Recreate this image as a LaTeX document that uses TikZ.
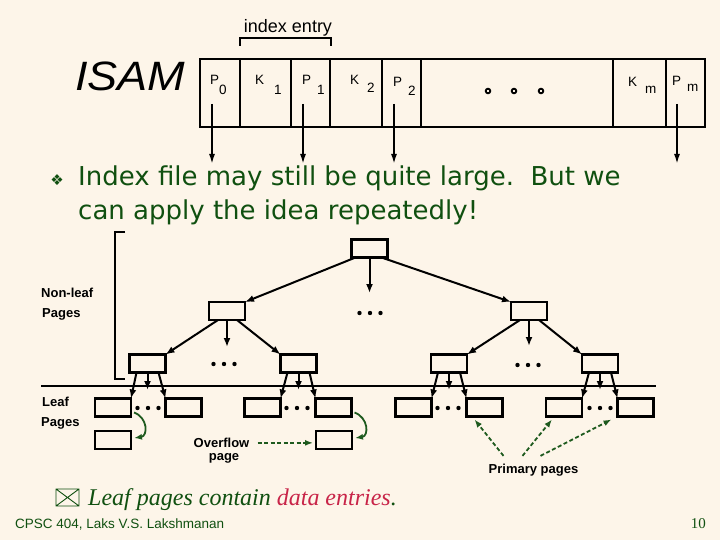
\documentclass[tikz,border=0pt]{standalone}
\usepackage{fontspec}
\setmainfont{Liberation Sans}
\newfontfamily\comicf{DejaVu Sans}
\newfontfamily\isamf[FakeStretch=1.1]{Liberation Sans}
\newfontfamily\dejavu{DejaVu Sans}
\newfontfamily\serifit{Liberation Serif}
\usetikzlibrary{arrows.meta}
\definecolor{bg}{RGB}{253,245,233}
\definecolor{tgreen}{RGB}{16,80,16}
\definecolor{agreen}{RGB}{30,90,30}
\definecolor{tred}{RGB}{200,36,72}
\newcommand\tdots[2]{\foreach \dx in {-10.5,0,10.5}{\fill ({#1+\dx},#2) circle[radius=2.2pt];}}
\begin{document}
\begin{tikzpicture}[x=1pt,y=-1pt,
  page/.style={draw, line width=2.2pt, minimum width=36pt, minimum height=18pt, inner sep=0pt, outer sep=0pt},
  cell/.style={draw, line width=2.2pt, minimum height=68pt, inner sep=0pt, outer sep=0pt, anchor=north west},
  tarrow/.style={line width=2pt, -{Latex[length=9pt,width=7pt]}},
  iarrow/.style={line width=1.8pt, -{Latex[length=10pt,width=6pt]}},
  lbl/.style={font=\fontsize{13}{15}\selectfont\bfseries, inner sep=0pt, anchor=base west},
  clbl/.style={font=\fontsize{13.5}{15}\selectfont, inner sep=0pt, anchor=base west},
  garrow/.style={agreen, line width=1.8pt, dash pattern=on 4pt off 2.5pt, -{Latex[length=8pt,width=6pt]}},
  gcurve/.style={agreen, line width=1.8pt, -{Latex[length=8pt,width=6pt]}},
]
\fill[bg] (0,0) rectangle (720,540);
\useasboundingbox (0,0) rectangle (720,540);

% title
\node[inner sep=0pt, anchor=base west, font=\isamf\fontsize{41}{45}\selectfont\itshape] (isam) at (75,91) {ISAM};
\node[inner sep=0pt, anchor=base, font=\fontsize{18}{20}\selectfont] (ie) at (288,33) {index entry};
\draw[line width=1.8pt] (240,46) -- (240,38) -- (331,38) -- (331,46);

% index page cells
\node[cell, minimum width=40pt] (cp0) at (200,59) {};
\node[cell, minimum width=51pt] (ck1) at (240,59) {};
\node[cell, minimum width=39pt] (cp1) at (291,59) {};
\node[cell, minimum width=52pt] (ck2) at (330,59) {};
\node[cell, minimum width=39pt] (cp2) at (382,59) {};
\node[cell, minimum width=192pt] (cdd) at (421,59) {};
\node[cell, minimum width=53pt] (ckm) at (613,59) {};
\node[cell, minimum width=39pt] (cpm) at (666,59) {};

\node[clbl] (tP0) at (210,85) {P};  \node[clbl] (sP0) at (219,95) {0};
\node[clbl] (tK1) at (255,85) {K};  \node[clbl] (sK1) at (274,95) {1};
\node[clbl] (tP1) at (302,85) {P};  \node[clbl] (sP1) at (317,95) {1};
\node[clbl] (tK2) at (350,85) {K};  \node[clbl] (sK2) at (367,93) {2};
\node[clbl] (tP2) at (393,87) {P};  \node[clbl] (sP2) at (408,96) {2};
\node[clbl] (tKm) at (628,87) {K};  \node[clbl] (sKm) at (645,94) {m};
\node[clbl] (tPm) at (672,86) {P};  \node[clbl] (sPm) at (687,92) {m};

\foreach \xx in {488,514,541}{\draw[line width=1.8pt] (\xx,91) circle[radius=2.3pt];}

\coordinate (a0s) at (212,104); \coordinate (a0e) at (212,164);
\coordinate (a1s) at (303,104); \coordinate (a1e) at (303,164);
\coordinate (a2s) at (394,104); \coordinate (a2e) at (394,164);
\coordinate (ams) at (677,104); \coordinate (ame) at (677,164);
\draw[iarrow] (a0s) -- (a0e);
\draw[iarrow] (a1s) -- (a1e);
\draw[iarrow] (a2s) -- (a2e);
\draw[iarrow] (ams) -- (ame);

% bullet text
\node[inner sep=0pt, anchor=center, text=tgreen, font=\dejavu\fontsize{15}{15}\selectfont] (b1) at (57,180) {❖};
\node[inner sep=0pt, anchor=base west, text=tgreen, font=\comicf\fontsize{26}{28}\selectfont] (t1) at (78,186) {Index file may still be quite large.\ \ But we};
\node[inner sep=0pt, anchor=base west, text=tgreen, font=\comicf\fontsize{26}{28}\selectfont] (t2) at (78,220) {can apply the idea repeatedly!};

% bracket for non-leaf
\draw[line width=2pt] (125,232) -- (115,232) -- (115,379) -- (125,379);
\node[lbl] (nl1) at (41,297.5) {Non-leaf};
\node[lbl] (nl2) at (42,317.5) {Pages};
\node[lbl] (lf1) at (42,406.5) {Leaf};
\node[lbl] (lf2) at (41,426.5) {Pages};

% tree
\node[page] (root) at (369.5,248.5) {};
\node[page] (ml) at (227,311) {};
\node[page] (mr) at (529,311) {};
\node[page] (na) at (147.5,363.5) {};
\node[page] (nb) at (298.5,363.5) {};
\node[page] (nc) at (449,363.5) {};
\node[page] (nd) at (600,363.5) {};
\node[page] (l1) at (113,407.5) {};
\node[page] (l2) at (183.5,407.5) {};
\node[page] (l3) at (262.5,407.5) {};
\node[page] (l4) at (333.5,407.5) {};
\node[page] (l5) at (413.5,407.5) {};
\node[page] (l6) at (484.5,407.5) {};
\node[page] (l7) at (564,407.5) {};
\node[page] (l8) at (635.5,407.5) {};
\node[page] (o1) at (113,440) {};
\node[page] (o4) at (334,440) {};

\draw[line width=2pt] (41,385.5) -- (656,385.5);

\coordinate (rarr) at (369.5,293);
\coordinate (mlarr) at (227,347);
\coordinate (mrarr) at (529,346);
\coordinate (aarr) at (147.5,390);
\coordinate (barr) at (298.5,390);
\coordinate (carr) at (449,390);
\coordinate (darr) at (600,390);

\draw[tarrow] ([xshift=4pt]root.south west) -- (ml.north east);
\draw[tarrow] ([xshift=-6pt]root.south east) -- (mr.north west);
\draw[tarrow] (root.south) -- (rarr);
\draw[tarrow] ([xshift=9pt]ml.south west) -- (na.north east);
\draw[tarrow] ([xshift=-8pt]ml.south east) -- (nb.north west);
\draw[tarrow] (ml.south) -- (mlarr);
\draw[tarrow] ([xshift=9pt]mr.south west) -- (nc.north east);
\draw[tarrow] ([xshift=-8pt]mr.south east) -- (nd.north west);
\draw[tarrow] (mr.south) -- (mrarr);
\foreach \p/\lft/\rgt/\dn in {na/l1/l2/aarr, nb/l3/l4/barr, nc/l5/l6/carr, nd/l7/l8/darr}{
  \draw[tarrow] ([xshift=7pt]\p.south west) -- (\lft.north east);
  \draw[tarrow] ([xshift=-7pt]\p.south east) -- (\rgt.north west);
  \draw[tarrow] (\p.south) -- (\dn);
}

\tdots{370}{313}
\tdots{224}{364}
\tdots{528}{365}
\tdots{148}{408}
\tdots{297}{408}
\tdots{448}{408}
\tdots{600}{408}

% overflow
\draw[gcurve] ([xshift=3pt,yshift=-5pt]l1.east) .. controls ([xshift=17pt,yshift=-10pt]l1.east) and ([xshift=17pt,yshift=4pt]o1.east) .. ([xshift=3pt,yshift=2pt]o1.east);
\draw[gcurve] ([xshift=3pt,yshift=-5pt]l4.east) .. controls ([xshift=17pt,yshift=-10pt]l4.east) and ([xshift=17pt,yshift=4pt]o4.east) .. ([xshift=3pt,yshift=2pt]o4.east);
\node[lbl, anchor=base] (ovf) at (221.5,447.5) {Overflow};
\node[lbl, anchor=base] (ovp) at (224,460) {page};
\draw[garrow] ([xshift=8pt]ovf.east) -- ([xshift=-3pt]ovf.east -| o4.west);

% primary pages
\node[lbl, anchor=base] (pp) at (533.5,473.5) {Primary pages};
\draw[garrow] ([xshift=-30pt,yshift=8pt]pp.north) -- ([xshift=8pt,yshift=-3pt]l6.south west);
\draw[garrow] ([xshift=-11pt,yshift=8pt]pp.north) -- ([xshift=6pt,yshift=-3pt]l7.south west);
\draw[garrow] ([xshift=7pt,yshift=8pt]pp.north) -- ([xshift=-6pt,yshift=-3pt]l8.south west);

% bottom bullet
\draw[tgreen, line width=0.9pt] (56,489) rectangle (79,506) (56,489) -- (79,506) (79,489) -- (56,506);
\node[inner sep=0pt, anchor=base west, font=\serifit\itshape\fontsize{24}{26}\selectfont] (t3) at (88,505) {\textcolor{tgreen}{Leaf pages contain} \textcolor{tred}{data entries}\textcolor{tgreen}{.}};

% footer
\node[inner sep=0pt, anchor=base west, text=tgreen, font=\fontsize{13.5}{15}\selectfont] (ft) at (15,528) {CPSC 404, Laks V.S. Lakshmanan};
\node[inner sep=0pt, anchor=base east, text=tgreen, font=\serifit\fontsize{15}{17}\selectfont] (pg) at (706,528) {10};
\end{tikzpicture}
\end{document}
